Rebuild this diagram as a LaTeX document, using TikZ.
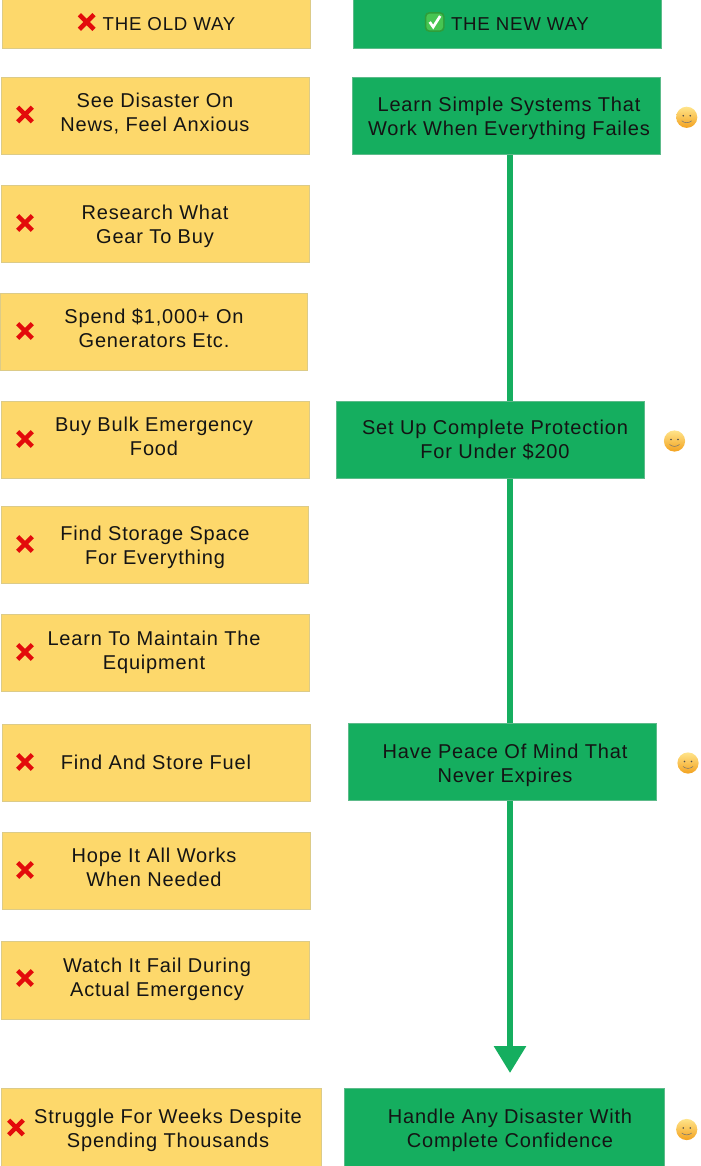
\documentclass[tikz,border=0pt]{standalone}
\usepackage{fontspec}
\setmainfont[LetterSpace=4.1]{Liberation Sans}
\usetikzlibrary{arrows.meta}
\definecolor{oldfill}{HTML}{FDD86B}
\definecolor{oldedge}{HTML}{DCCB88}
\definecolor{newfill}{HTML}{15AE5F}
\definecolor{newedge}{HTML}{5DBB8A}
\definecolor{inkblack}{HTML}{141414}
\definecolor{xred}{HTML}{E30B0B}
\definecolor{smiletop}{HTML}{FFE48A}
\definecolor{smilebot}{HTML}{F3A21F}
\definecolor{tickedge}{HTML}{2E9E3A}
\definecolor{tickfill}{HTML}{47C552}
\newcommand{\lstrut}{\rule[-3.75pt]{0pt}{18pt}}
\tikzset{
  x=0.75pt,y=-0.75pt,
  oldbox/.style={draw=oldedge,fill=oldfill,line width=0.6pt},
  newbox/.style={draw=newedge,fill=newfill,line width=0.6pt},
  label/.style={inner sep=0pt,align=center,text=inkblack,font=\fontsize{15}{18}\selectfont},
  headlabel/.style={label,font=\fontsize{14}{18}\selectfont},
  flow/.style={draw=newfill,line width=4.5pt},
  pics/redx/.style={code={
    \draw[xred,line width=3.4pt] (-7.3,-7.3) -- (7.3,7.3) (-7.3,7.3) -- (7.3,-7.3);
  }},
  pics/smile/.style={code={
    \shade[top color=smiletop,bottom color=smilebot] (0,0) circle[radius=10.6];
    \fill[black!70] (-3.5,-1.5) circle[radius=0.9] (3.5,-1.5) circle[radius=0.9];
    \draw[black!55,line width=0.4pt] (-5,3.5) .. controls (-2,6) and (2,6) .. (5,3.5);
  }},
  pics/tick/.style={code={
    \fill[rounded corners=3pt,fill=tickedge] (-9.8,-9.8) rectangle (9.8,9.8);
    \fill[rounded corners=2.5pt,fill=tickfill] (-8.3,-8.3) rectangle (8.3,8.3);
    \draw[white,line width=2pt] (-5,0) -- (-1.5,5) -- (5.5,-6);
  }},
}
\newcommand{\boxat}[6]{% style, name, x1, y1, x2, y2
  \path[#1] (#3,#4) rectangle (#5,#6);
  \coordinate (#2-n) at ({(#3+#5)/2},#4);
  \coordinate (#2-s) at ({(#3+#5)/2},#6);
}
\begin{document}
\begin{tikzpicture}
\useasboundingbox (0,0) rectangle (700,1166);
% header row
\boxat{oldbox}{oh}{2}{-1}{310}{48}
\boxat{newbox}{nh}{353}{-1}{661}{48}
\node[headlabel] (toh) at (169,23.5) {\lstrut THE OLD WAY};
\node[headlabel] (tnh) at (520,23.5) {\lstrut THE NEW WAY};
\pic at (86.7,22) {redx};
\pic at (434.7,22) {tick};
% old way
\boxat{oldbox}{o1}{1}{77}{309}{154}
\boxat{oldbox}{o2}{1}{185}{309}{262}
\boxat{oldbox}{o3}{0}{293}{307}{370}
\boxat{oldbox}{o4}{1}{401}{309}{478}
\boxat{oldbox}{o5}{1}{506}{308}{583}
\boxat{oldbox}{o6}{1}{614}{309}{691}
\boxat{oldbox}{o7}{2}{724}{310}{801}
\boxat{oldbox}{o8}{2}{832}{310}{909}
\boxat{oldbox}{o9}{1}{941}{309}{1019}
\boxat{oldbox}{o10}{1}{1088}{321}{1167}
\node[label] (t1) at (155,112.5) {\lstrut See Disaster On\\\lstrut News, Feel Anxious};
\node[label] (t2) at (155,224.5) {\lstrut Research What\\\lstrut Gear To Buy};
\node[label] (t3) at (154,328) {\lstrut Spend \$1,000+ On\\\lstrut Generators Etc.};
\node[label] (t4) at (154,436) {\lstrut Buy Bulk Emergency\\\lstrut Food};
\node[label] (t5) at (155,545) {\lstrut Find Storage Space\\\lstrut For Everything};
\node[label] (t6) at (154,650) {\lstrut Learn To Maintain The\\\lstrut Equipment};
\node[label] (t7) at (156,762) {\lstrut Find And Store Fuel};
\node[label] (t8) at (154,867) {\lstrut Hope It All Works\\\lstrut When Needed};
\node[label] (t9) at (157,977) {\lstrut Watch It Fail During\\\lstrut Actual Emergency};
\node[label] (t10) at (168,1128) {\lstrut Struggle For Weeks Despite\\\lstrut Spending Thousands};
\foreach \yy in {114.5,223,331,439,544,652,762,870,978}{\pic at (25,\yy) {redx};}
\pic at (16,1127.5) {redx};
% new way connectors
\coordinate (tip) at (510,1073);
\coordinate (n1s) at (510,154);
\coordinate (n2n) at (510,401);
\coordinate (n2s) at (510,478);
\coordinate (n3n) at (510,723);
\coordinate (n3s) at (510,800);
\draw[flow] (n1s) -- (n2n);
\draw[flow] (n2s) -- (n3n);
\draw[flow,-{Triangle[length=20.25pt,width=23.25pt]}] (n3s) -- (tip);
% new way boxes
\boxat{newbox}{n1}{352}{77}{660}{154}
\boxat{newbox}{n2}{336}{401}{644}{478}
\boxat{newbox}{n3}{348}{723}{656}{800}
\boxat{newbox}{n4}{344}{1088}{664}{1167}
\node[label] (u1) at (509,117) {\lstrut Learn Simple Systems That\\\lstrut Work When Everything Failes};
\node[label] (u2) at (495,439) {\lstrut Set Up Complete Protection\\\lstrut For Under \$200};
\node[label] (u3) at (505,763) {\lstrut Have Peace Of Mind That\\\lstrut Never Expires};
\node[label] (u4) at (510,1128) {\lstrut Handle Any Disaster With\\\lstrut Complete Confidence};
\pic at (686.7,117.3) {smile};
\pic at (674.5,441) {smile};
\pic at (688,763) {smile};
\pic at (686.7,1129.5) {smile};
\end{tikzpicture}
\end{document}
